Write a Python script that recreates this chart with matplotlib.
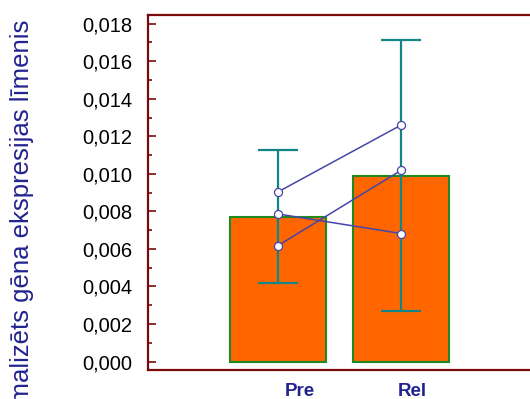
import numpy as np
import matplotlib.pyplot as plt
from matplotlib.ticker import MultipleLocator, FuncFormatter

# ---------------------------------------------------
# Data
# ---------------------------------------------------

groups = ["Pre", "Rel"]
group_means = [0.00772, 0.00990]
group_errors = [0.00355, 0.00722]

# individual samples, one line per sample (Pre -> Rel)
sample_pre = [0.00904, 0.00618, 0.00786]
sample_rel = [0.01260, 0.01019, 0.00682]

y_label = "Normalizēts gēna ekspresijas līmenis"

# ---------------------------------------------------
# Style
# ---------------------------------------------------

plt.rcParams["font.family"] = ["Liberation Sans", "DejaVu Sans"]

axis_color = "#7a0a0a"
bar_color = "#ff6600"
bar_edge = "#1f8a1f"
err_color = "#138585"
line_color = "#4646a8"
label_color = "#232390"

fig = plt.figure(figsize=(5.30, 3.99), dpi=100)
ax = fig.add_axes([0.2792, 0.0727, 0.7774, 0.8897])

x = np.arange(len(groups))

ax.bar(
    x,
    group_means,
    width=0.78,
    color=bar_color,
    edgecolor=bar_edge,
    linewidth=1.5,
    zorder=2,
)

ax.errorbar(
    x,
    group_means,
    yerr=group_errors,
    fmt="none",
    ecolor=err_color,
    elinewidth=1.6,
    capsize=14.4,
    capthick=1.6,
    zorder=3,
)

for a, b in zip(sample_pre, sample_rel):
    ax.plot(
        x,
        [a, b],
        color=line_color,
        linewidth=1.1,
        marker="o",
        markersize=5.8,
        markerfacecolor="white",
        markeredgecolor=line_color,
        markeredgewidth=0.9,
        zorder=4,
    )

# ---------------------------------------------------
# Axes
# ---------------------------------------------------

ax.set_xlim(-1.057, 2.29)
ax.set_ylim(-0.00045, 0.01846)

ax.yaxis.set_major_locator(MultipleLocator(0.002))
ax.yaxis.set_minor_locator(MultipleLocator(0.001))
ax.yaxis.set_major_formatter(
    FuncFormatter(lambda v, pos: f"{v:.3f}".replace(".", ","))
)

ax.tick_params(
    axis="y",
    which="major",
    direction="in",
    length=5.6,
    width=1.2,
    color=axis_color,
    labelsize=14.5,
    pad=11,
)
ax.tick_params(
    axis="y",
    which="minor",
    direction="in",
    length=3.0,
    width=1.2,
    color=axis_color,
)

ax.set_xticks(np.array([0.18, 1.09]))
ax.set_xticklabels(groups, fontsize=13.5, fontweight="bold", color=label_color)
ax.tick_params(axis="x", length=0, pad=9.5)

for side in ["left", "top", "bottom"]:
    ax.spines[side].set_color(axis_color)
    ax.spines[side].set_linewidth(1.6)
ax.spines["right"].set_visible(False)

fig.text(
    0.0415,
    0.95,
    y_label,
    rotation=90,
    ha="center",
    va="top",
    fontsize=18.5,
    color=label_color,
)

plt.savefig("out.png", dpi=100)
